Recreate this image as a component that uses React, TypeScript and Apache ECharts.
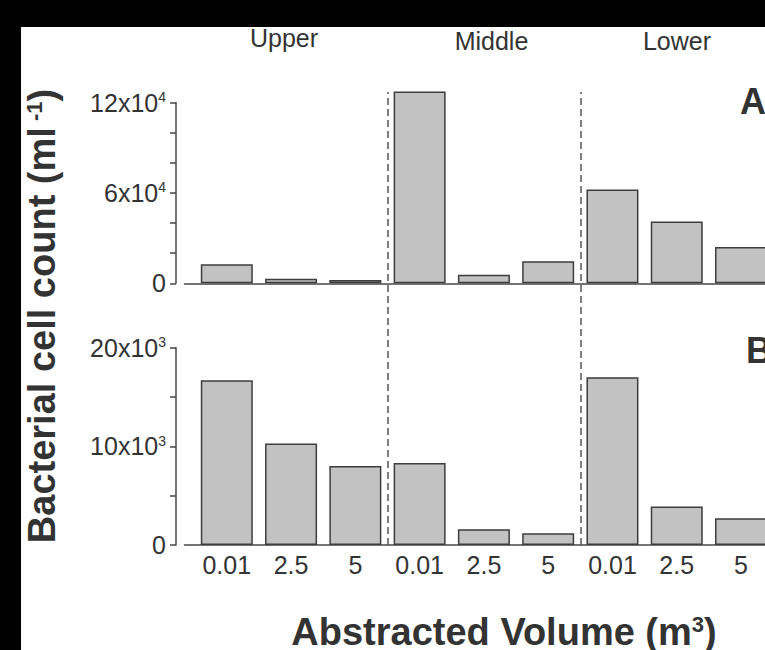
import React, { useEffect, useRef } from "react";
import * as echarts from "echarts";

// ---- data ----
const groups = ["Upper", "Middle", "Lower"];
const volumes = ["0.01", "2.5", "5", "0.01", "2.5", "5", "0.01", "2.5", "5"];
const countsA = [12600, 3100, 2200, 127300, 5700, 14600, 62300, 41000, 24100];
const countsB = [16700, 10300, 8000, 8300, 1600, 1200, 17000, 3900, 2700];

const yTickValuesA = [0, 60000, 120000];
const yTickTextA = ["0", "6x10", "12x10"];
const yTickExpA = ["", "4", "4"];
const yTickValuesB = [0, 10000, 20000];
const yTickTextB = ["0", "10x10", "20x10"];
const yTickExpB = ["", "3", "3"];

const panelLetters = ["A", "B"];
const xTitle = "Abstracted Volume (m";
const xTitleExp = "3";
const yTitle = "Bacterial cell count (ml";
const yTitleExp = " -1";

// ---- layout ----
const FONT = "Liberation Sans, Arial, sans-serif";
const TXT = "#333";
const AX = "#474747";
const XMIN = -0.658;
const XMAX = 8.373;
const GRID_LEFT = 184.5;

function yFormatter(values: number[], texts: string[], exps: string[]) {
  return (v: number) => {
    const i = values.indexOf(v);
    if (i < 0) return "";
    return exps[i] ? `{m|${texts[i]}}{e|${exps[i]}}` : `{m|${texts[i]}}`;
  };
}

const yRich = {
  m: { fontSize: 25, fontFamily: FONT, color: TXT },
  e: { fontSize: 14, fontFamily: FONT, color: TXT, verticalAlign: "top" },
};

export default function App() {
  const ref = useRef<HTMLDivElement>(null);
  useEffect(() => {
    if (!ref.current) return;
    const chart = echarts.init(ref.current, undefined, { renderer: "svg" });
    const per = volumes.length / groups.length;
    const boundaries = groups.slice(0, -1).map((_, g) => (g + 1) * per - 0.5);

    const xBase = {
      type: "value",
      min: XMIN,
      max: XMAX,
      splitLine: { show: false },
      axisTick: { show: false },
      axisLine: { show: true, onZero: false, lineStyle: { color: AX, width: 1.5 } },
      axisLabel: { show: false },
    };
    const yBase = {
      type: "value",
      min: 0,
      offset: 8.5,
      splitLine: { show: false },
      axisLine: { show: true, onZero: false, lineStyle: { color: AX, width: 1.5 } },
      axisTick: { show: true, length: 6, lineStyle: { color: AX, width: 1.5 } },
    };
    const barStyle = { color: "#c2c2c2", borderColor: "#3d3d3d", borderWidth: 1.5 };

    chart.setOption({
      animation: false,
      backgroundColor: "#fff",
      grid: [
        { left: GRID_LEFT, right: 0, top: 102.5, height: 180.8 },
        { left: GRID_LEFT, right: 0, top: 347.7, height: 197.3 },
        { left: GRID_LEFT, right: 0, top: 92, height: 453 },
      ],
      xAxis: [
        { ...xBase, gridIndex: 0 },
        {
          ...xBase,
          gridIndex: 1,
          axisLabel: {
            show: true,
            customValues: volumes.map((_, i) => i),
            formatter: (v: number) => volumes[Math.round(v)] ?? "",
            fontSize: 25,
            fontFamily: FONT,
            color: TXT,
            margin: 7,
          },
        },
        { ...xBase, gridIndex: 2, show: false },
      ],
      yAxis: [
        {
          ...yBase,
          gridIndex: 0,
          max: 120000,
          interval: 20000,
          axisLabel: { formatter: yFormatter(yTickValuesA, yTickTextA, yTickExpA), rich: yRich, margin: 10 },
        },
        {
          ...yBase,
          gridIndex: 1,
          max: 20000,
          interval: 5000,
          axisLabel: { formatter: yFormatter(yTickValuesB, yTickTextB, yTickExpB), rich: yRich, margin: 10 },
        },
        { type: "value", gridIndex: 2, min: 0, max: 1, show: false },
      ],
      series: [
        {
          type: "bar",
          xAxisIndex: 0,
          yAxisIndex: 0,
          data: countsA.map((v, i) => [i, v]),
          barWidth: 52,
          clip: false,
          silent: true,
          itemStyle: barStyle,
        },
        {
          type: "bar",
          xAxisIndex: 1,
          yAxisIndex: 1,
          data: countsB.map((v, i) => [i, v]),
          barWidth: 52,
          clip: false,
          silent: true,
          itemStyle: barStyle,
        },
        {
          type: "line",
          xAxisIndex: 2,
          yAxisIndex: 2,
          data: [],
          silent: true,
          markLine: {
            silent: true,
            symbol: ["none", "none"],
            label: { show: false },
            lineStyle: { color: "#555", width: 1.5, type: [7, 4] },
            data: boundaries.map((b) => ({ xAxis: b })),
          },
        },
      ],
      graphic: [
        { type: "rect", shape: { x: 0, y: 0, width: 765, height: 27 }, style: { fill: "#000" }, z: 100 },
        { type: "rect", shape: { x: 0, y: 0, width: 21, height: 650 }, style: { fill: "#000" }, z: 100 },
        ...groups.map((g, i) => ({
          type: "text",
          x: [284, 491.5, 677][i],
          y: [38, 41, 41][i],
          style: {
            text: g,
            font: `25px ${FONT}`,
            fill: TXT,
            textAlign: "center",
            textVerticalAlign: "middle",
          },
        })),
        ...panelLetters.map((l, i) => ({
          type: "text",
          x: [740, 746][i],
          y: [101, 350][i],
          style: {
            text: l,
            font: `bold 36px ${FONT}`,
            fill: TXT,
            textAlign: "left",
            textVerticalAlign: "middle",
          },
        })),
        {
          type: "text",
          x: 504,
          y: 632,
          style: {
            text: `{t|${xTitle}}{s|${xTitleExp}}{t|)}`,
            textAlign: "center",
            textVerticalAlign: "middle",
            rich: {
              t: { font: `bold 38px ${FONT}`, fill: TXT, color: TXT },
              s: { font: `bold 22px ${FONT}`, fill: TXT, color: TXT, verticalAlign: "top" },
            },
          },
        },
        {
          type: "text",
          x: 42,
          y: 316,
          rotation: Math.PI / 2,
          style: {
            text: `{t|${yTitle}}{s|${yTitleExp}}{t|)}`,
            textAlign: "center",
            textVerticalAlign: "middle",
            rich: {
              t: { font: `bold 38px ${FONT}`, fill: TXT, color: TXT },
              s: { font: `bold 22px ${FONT}`, fill: TXT, color: TXT, verticalAlign: "top" },
            },
          },
        },
      ],
    });
    return () => chart.dispose();
  }, []);
  return (
    <div
      ref={ref}
      style={{ position: "absolute", left: 0, top: 0, width: 765, height: 650, background: "#fff" }}
    />
  );
}
